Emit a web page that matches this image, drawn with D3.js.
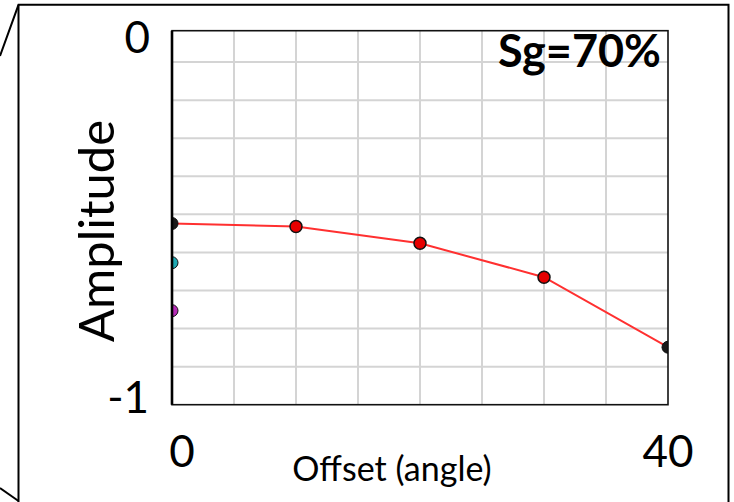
<!DOCTYPE html>
<html>
<head>
<meta charset="utf-8">
<script src="https://cdn.jsdelivr.net/npm/d3@7"></script>
<style>
  html, body { margin: 0; padding: 0; background: #fff; }
  svg { display: block; }
  text { font-family: Lato, "Open Sans", sans-serif; fill: #000; }
</style>
</head>
<body>
<svg id="chart" width="734" height="502"></svg>
<script>
// Offset angles (degrees) and normalised amplitude for the Sg=70% case
const offsets = [0, 10, 20, 30, 40];
const amplitude = [-0.524, -0.532, -0.576, -0.665, -0.849];

// Start/end markers of the neighbouring curves that sit on the plot edges
const edgeOffsets = [0, 0, 0, 40];
const edgeValues = [-0.524, -0.627, -0.753, -0.849];
const edgeColors = ["#1a1a1a", "#1fa9b3", "#b52bb5", "#1a1a1a"];

// Axis settings
const xDomain = [0, 40];
const yDomain = [-1, -0.0176];
const xGrid = [5, 10, 15, 20, 25, 30, 35];
const yGrid = [-0.1, -0.2, -0.3, -0.4, -0.5, -0.6, -0.7, -0.8, -0.9];
const xTickLabels = ["0", "40"];
const yTickLabels = ["0", "-1"];
const panelTitle = "Sg=70%";
const xTitle = "Offset (angle)";
const yTitle = "Amplitude";

const svg = d3.select("#chart");
const plot = { left: 172, right: 668, top: 30.7, bottom: 404.7 };

const x = d3.scaleLinear().domain(xDomain).range([plot.left, plot.right]);
const y = d3.scaleLinear().domain(yDomain).range([plot.bottom, plot.top]);

// Outer panel frame with its slanted left flaps
const frame = svg.append("g").attr("fill", "none").attr("stroke", "#000").attr("stroke-width", 2);
frame.append("path").attr("d", "M0,56 L18.5,4.8 L728.5,4.8 L728.5,502");
frame.append("path").attr("d", "M18.5,4.8 L18.5,502");
frame.append("path").attr("d", "M0,488 L18.5,501");

// Grid
const grid = svg.append("g").attr("stroke", "#d4d4d4").attr("stroke-width", 2);
grid.selectAll("line.v").data(xGrid).join("line")
  .attr("x1", d => x(d)).attr("x2", d => x(d))
  .attr("y1", plot.top).attr("y2", plot.bottom);
grid.selectAll("line.h").data(yGrid).join("line")
  .attr("x1", plot.left).attr("x2", plot.right)
  .attr("y1", d => y(d)).attr("y2", d => y(d));

// Clip region for marks
svg.append("defs").append("clipPath").attr("id", "plotClip")
  .append("rect")
  .attr("x", plot.left).attr("y", plot.top)
  .attr("width", plot.right - plot.left).attr("height", plot.bottom - plot.top);

const marks = svg.append("g").attr("clip-path", "url(#plotClip)");

const line = d3.line()
  .x((d, i) => x(offsets[i]))
  .y(d => y(d));

marks.append("path")
  .datum(amplitude)
  .attr("d", line)
  .attr("fill", "none")
  .attr("stroke", "#ff3030")
  .attr("stroke-width", 2);

marks.selectAll("circle.edge").data(edgeValues).join("circle")
  .attr("class", "edge")
  .attr("cx", (d, i) => x(edgeOffsets[i]))
  .attr("cy", d => y(d))
  .attr("r", 6)
  .attr("fill", (d, i) => edgeColors[i])
  .attr("stroke", "#111")
  .attr("stroke-width", 1);

marks.selectAll("circle.pt").data(amplitude.slice(1, -1)).join("circle")
  .attr("class", "pt")
  .attr("cx", (d, i) => x(offsets[i + 1]))
  .attr("cy", d => y(d))
  .attr("r", 6)
  .attr("fill", "#e60000")
  .attr("stroke", "#111")
  .attr("stroke-width", 1.5);

// Plot border
svg.append("rect")
  .attr("x", plot.left).attr("y", plot.top)
  .attr("width", plot.right - plot.left).attr("height", plot.bottom - plot.top)
  .attr("fill", "none").attr("stroke", "#111").attr("stroke-width", 1.6);
svg.append("line")
  .attr("x1", plot.left).attr("x2", plot.left)
  .attr("y1", plot.top).attr("y2", plot.bottom)
  .attr("stroke", "#000").attr("stroke-width", 2.6);

// Tick labels
svg.append("text").text(yTickLabels[0])
  .attr("x", 150).attr("y", plot.top + 22)
  .attr("text-anchor", "end").attr("font-size", 44);
svg.append("text").text(yTickLabels[1])
  .attr("x", 149).attr("y", plot.bottom + 8)
  .attr("text-anchor", "end").attr("font-size", 44);
svg.append("text").text(xTickLabels[0])
  .attr("x", x(xDomain[0]) + 10).attr("y", 467)
  .attr("text-anchor", "middle").attr("font-size", 44);
svg.append("text").text(xTickLabels[1])
  .attr("x", x(xDomain[1])).attr("y", 467)
  .attr("text-anchor", "middle").attr("font-size", 44);

// Axis titles
svg.append("text").text(xTitle)
  .attr("x", 392).attr("y", 481)
  .attr("text-anchor", "middle").attr("font-size", 34);
svg.append("text").text(yTitle)
  .attr("transform", "translate(114,231) rotate(-90)")
  .attr("text-anchor", "middle").attr("font-size", 49);

// Panel title
svg.append("text").text(panelTitle)
  .attr("x", 661).attr("y", 67)
  .attr("text-anchor", "end").attr("font-size", 45).attr("font-weight", "bold");
</script>
</body>
</html>
